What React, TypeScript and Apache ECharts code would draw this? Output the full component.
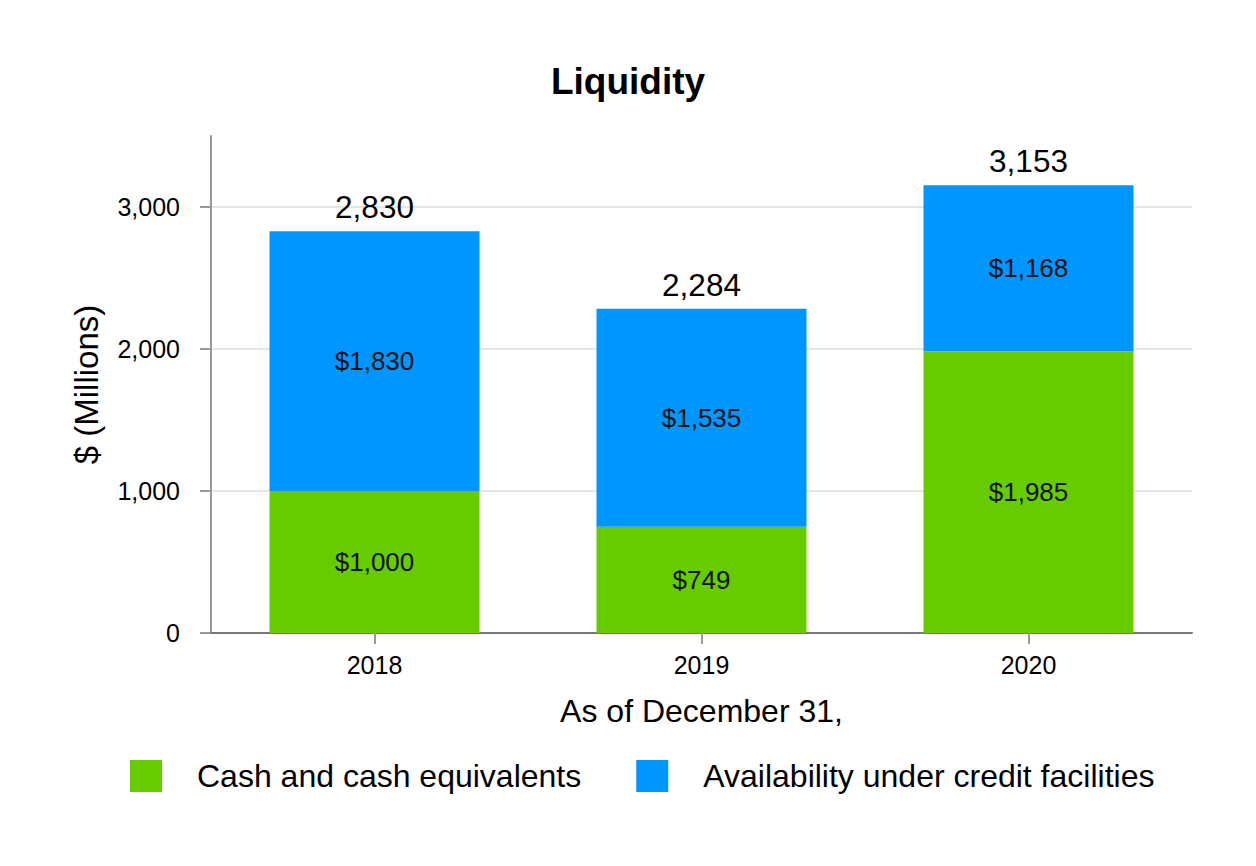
import React, { useEffect, useRef } from "react";
import * as echarts from "echarts";

const years = ["2018", "2019", "2020"];
const cash = [1000, 749, 1985];
const credit = [1830, 1535, 1168];
const totals = [2830, 2284, 3153];
const seriesNames = ["Cash and cash equivalents", "Availability under credit facilities"];
const yTicks = [0, 1000, 2000, 3000];

const FONT = "'Liberation Sans', Arial, Helvetica, sans-serif";
const fmt = (v: number) => v.toLocaleString("en-US");

export default function App() {
  const ref = useRef<HTMLDivElement>(null);
  useEffect(() => {
    if (!ref.current) return;
    const chart = echarts.init(ref.current, undefined, { renderer: "svg" });
    chart.setOption({
      animation: false,
      backgroundColor: "#ffffff",
      textStyle: { fontFamily: FONT },
      title: {
        text: "Liquidity",
        left: "center",
        top: 58,
        textStyle: { fontSize: 37, fontWeight: "bold", color: "#000", fontFamily: FONT },
      },
      grid: { left: 211, right: 64, top: 136, bottom: 233, containLabel: false },
      legend: {
        data: seriesNames,
        left: 130,
        top: 760,
        padding: 0,
        icon: "rect",
        itemWidth: 32,
        itemHeight: 32,
        itemGap: 55,
        textStyle: { fontSize: 32, color: "#000", fontFamily: FONT, padding: [0, 0, 0, 30] },
      },
      xAxis: {
        type: "category",
        data: years,
        axisLine: { show: true, lineStyle: { color: "#777", width: 2 } },
        axisTick: { show: true, alignWithLabel: true, length: 11, lineStyle: { color: "#999", width: 2 } },
        axisLabel: { fontSize: 25, color: "#000", margin: 19, fontFamily: FONT },
        name: "As of December 31,",
        nameLocation: "middle",
        nameGap: 62,
        nameTextStyle: { fontSize: 32, color: "#000", fontFamily: FONT },
      },
      yAxis: {
        type: "value",
        min: yTicks[0],
        max: 3500,
        interval: 1000,
        axisLine: { show: true, lineStyle: { color: "#999", width: 2 } },
        axisTick: { show: true, length: 11, lineStyle: { color: "#999", width: 2 } },
        axisLabel: {
          fontSize: 25,
          color: "#000",
          margin: 31,
          showMaxLabel: false,
          fontFamily: FONT,
          formatter: (v: number) => (yTicks.includes(v) ? fmt(v) : ""),
        },
        splitLine: { show: true, showMaxLine: false, lineStyle: { color: "#e6e6e6", width: 2 } },
        name: "$ (Millions)",
        nameLocation: "middle",
        nameGap: 108,
        nameRotate: 90,
        nameTextStyle: { fontSize: 33, color: "#000", fontFamily: FONT },
      },
      series: [
        {
          name: seriesNames[0],
          type: "bar",
          stack: "a",
          data: cash,
          barWidth: 210,
          itemStyle: { color: "#66CC00" },
          label: {
            show: true,
            position: "inside",
            fontSize: 26,
            color: "#111",
            fontFamily: FONT,
            formatter: (p: any) => "$" + fmt(p.value),
          },
        },
        {
          name: seriesNames[1],
          type: "bar",
          stack: "a",
          data: credit,
          barWidth: 210,
          itemStyle: { color: "#0096FF" },
          label: {
            show: true,
            position: "inside",
            fontSize: 26,
            color: "#111",
            fontFamily: FONT,
            formatter: (p: any) => "$" + fmt(p.value),
          },
        },
        {
          name: "Total",
          type: "bar",
          data: totals,
          barWidth: 210,
          barGap: "-100%",
          silent: true,
          z: 1,
          itemStyle: { color: "rgba(0,0,0,0)" },
          label: {
            show: true,
            position: "top",
            distance: 8,
            fontSize: 31.5,
            color: "#000",
            fontFamily: FONT,
            formatter: (p: any) => fmt(p.value),
          },
        },
      ],
    });
    return () => chart.dispose();
  }, []);
  return (
    <div
      ref={ref}
      style={{ position: "fixed", left: 0, top: 0, width: 1256, height: 866, background: "#fff" }}
    />
  );
}
